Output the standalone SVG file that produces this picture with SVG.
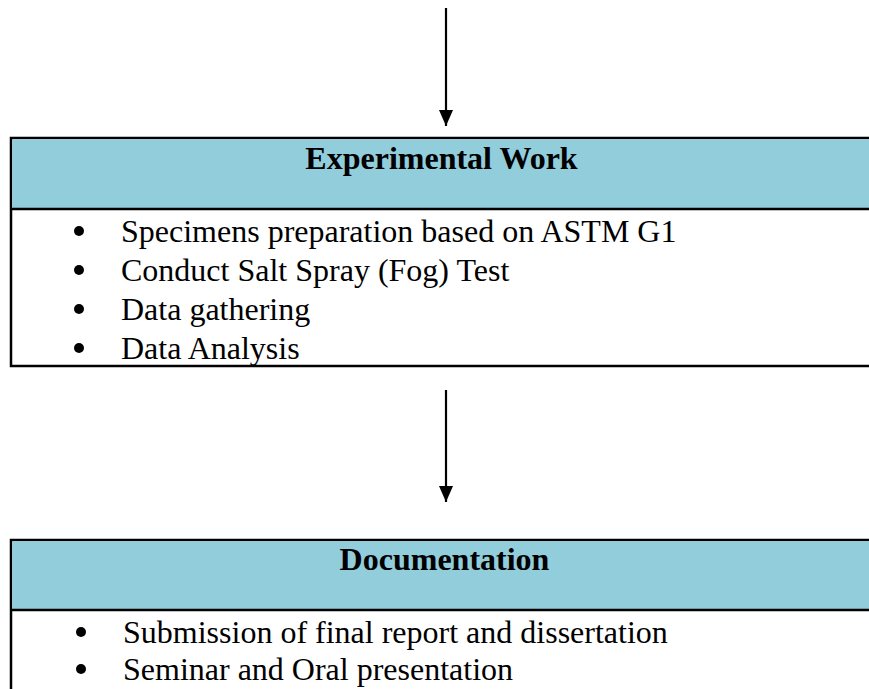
<svg xmlns="http://www.w3.org/2000/svg" width="869" height="689" viewBox="0 0 869 689">
<style>
.box{fill:#ffffff;stroke:#000;stroke-width:2.5}
.hdr{fill:#92CDDC}
.rule{stroke:#000;stroke-width:2.5}
.title{font-family:"Liberation Serif","Times New Roman",serif;font-weight:bold;font-size:32px;fill:#000;text-anchor:middle}
.item{font-family:"Liberation Serif","Times New Roman",serif;font-size:32px;fill:#000}
.bul{fill:#000}
.conn{stroke:#000;stroke-width:2.2;fill:none}
</style>
<defs>
<marker id="ah" markerWidth="16" markerHeight="14" refX="16" refY="7" orient="auto" markerUnits="userSpaceOnUse" viewBox="0 0 16 14">
<polygon points="0,0 16,7 0,14" fill="#000"/>
</marker>
</defs>
<rect width="869" height="689" fill="#fff"/>
<g id="connectors">
<line class="conn" x1="446" y1="8" x2="446" y2="126" marker-end="url(#ah)"/>
<line class="conn" x1="446" y1="390" x2="446" y2="502" marker-end="url(#ah)"/>
</g>
<g id="experimental-work">
<rect class="box" x="11" y="138" width="870" height="228"/>
<rect class="hdr" x="12.25" y="139.25" width="858" height="69.5"/>
<line class="rule" x1="11" y1="209" x2="870" y2="209"/>
<text class="title" x="441.5" y="169">Experimental Work</text>
<circle class="bul" cx="79" cy="231" r="5"/>
<circle class="bul" cx="79" cy="270" r="5"/>
<circle class="bul" cx="79" cy="309" r="5"/>
<circle class="bul" cx="79" cy="348" r="5"/>
<text class="item" x="121" y="242">Specimens preparation based on ASTM G1</text>
<text class="item" x="121" y="281">Conduct Salt Spray (Fog) Test</text>
<text class="item" x="121" y="320">Data gathering</text>
<text class="item" x="121" y="359">Data Analysis</text>
</g>
<g id="documentation">
<rect class="box" x="11" y="540" width="870" height="200"/>
<rect class="hdr" x="12.25" y="541.25" width="858" height="68"/>
<line class="rule" x1="11" y1="610" x2="870" y2="610"/>
<text class="title" x="444.5" y="570">Documentation</text>
<circle class="bul" cx="81" cy="632" r="5"/>
<circle class="bul" cx="81" cy="669" r="5"/>
<text class="item" x="123" y="643">Submission of final report and dissertation</text>
<text class="item" x="123" y="680">Seminar and Oral presentation</text>
</g>
</svg>
